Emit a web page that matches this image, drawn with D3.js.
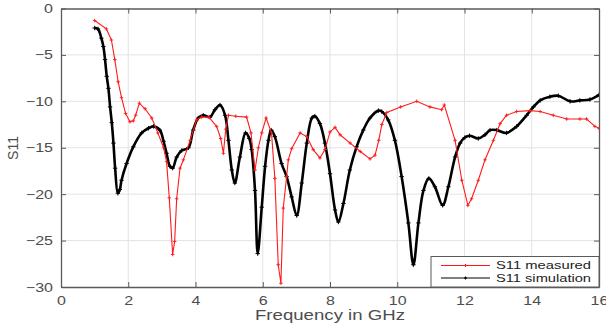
<!DOCTYPE html>
<html><head><meta charset="utf-8">
<script src="https://cdn.jsdelivr.net/npm/d3@7"></script>
<style>
html,body{margin:0;padding:0;background:#fff;}
text{font-family:"Liberation Sans",Arial,sans-serif;}
</style></head>
<body><svg id="c" width="606" height="325"></svg>
<script>
const measFreq = [1.0,1.35,1.5,1.6,1.7,1.8,1.92,2.05,2.15,2.22,2.33,2.5,2.7,2.88,3.05,3.14,3.22,3.32,3.38,3.44,3.54,3.64,3.84,4.03,4.18,4.4,4.63,4.75,4.83,4.9,4.98,5.2,5.52,5.65,5.77,5.87,5.97,6.1,6.26,6.36,6.46,6.54,6.61,6.71,6.76,6.86,7.11,7.31,7.5,7.7,7.85,8.0,8.15,8.3,8.6,8.9,9.19,9.34,9.45,9.54,9.69,10.1,10.58,10.97,11.32,11.4,11.72,11.92,12.1,12.21,12.41,12.61,12.86,13.06,13.25,13.55,13.95,14.25,14.64,15.04,15.43,15.63,15.88,16.0];
const measS11  = [-1.3,-2.2,-3.4,-5.5,-7.9,-9.6,-11.3,-12.2,-12.1,-11.5,-10.2,-10.8,-11.8,-13.4,-15.0,-16.5,-20.4,-26.5,-25.1,-20.5,-17.2,-16.3,-14.2,-12.0,-11.7,-11.7,-12.7,-14.0,-15.6,-13.0,-11.5,-11.6,-11.7,-13.4,-17.4,-15.0,-13.4,-11.8,-13.4,-18.3,-27.6,-29.6,-21.5,-18.1,-16.3,-15.1,-13.4,-13.8,-15.2,-16.1,-15.2,-13.3,-12.8,-13.6,-14.5,-15.4,-16.2,-15.8,-14.2,-12.5,-11.2,-10.6,-10.0,-10.6,-10.9,-10.4,-14.2,-18.5,-21.2,-20.5,-18.5,-16.3,-14.2,-12.4,-11.5,-11.1,-11.0,-11.1,-11.5,-11.9,-11.9,-11.9,-12.7,-12.9];

const simFreq = [1.0,1.1,1.2,1.26,1.31,1.36,1.41,1.46,1.51,1.56,1.61,1.69,1.75,1.8,1.95,2.15,2.4,2.6,2.75,2.94,3.05,3.14,3.24,3.32,3.44,3.59,3.79,3.93,4.08,4.23,4.43,4.58,4.73,4.88,4.98,5.08,5.17,5.32,5.49,5.6,5.67,5.77,5.85,5.97,6.07,6.17,6.25,6.36,6.56,6.71,6.86,7.01,7.16,7.31,7.46,7.55,7.7,7.85,8.0,8.15,8.25,8.4,8.59,8.79,8.99,9.19,9.44,9.54,9.73,9.93,10.13,10.33,10.48,10.63,10.78,10.94,11.12,11.35,11.52,11.72,11.87,12.01,12.15,12.41,12.61,12.76,12.96,13.25,13.55,13.85,14.05,14.25,14.54,14.79,15.14,15.43,15.73,16.0];
const simS11  = [-2.1,-2.2,-3.2,-4.1,-5.5,-7.3,-8.6,-10.6,-12.3,-14.5,-17.2,-19.9,-19.5,-18.5,-16.7,-14.9,-13.4,-12.9,-12.7,-13.1,-14.3,-15.6,-17.0,-17.2,-16.0,-15.3,-15.0,-13.1,-11.8,-11.5,-11.7,-10.9,-10.4,-11.5,-14.2,-17.4,-18.8,-16.0,-13.4,-14.0,-15.2,-19.6,-26.4,-21.4,-17.0,-14.2,-13.1,-13.8,-16.7,-18.1,-20.3,-22.3,-18.8,-14.5,-11.8,-11.6,-12.4,-14.5,-17.8,-21.7,-23.0,-21.0,-17.4,-14.9,-13.1,-11.8,-11.0,-11.1,-12.0,-14.2,-18.1,-23.1,-27.6,-23.1,-19.6,-18.3,-19.2,-21.2,-19.2,-16.0,-14.5,-13.9,-13.7,-14.0,-13.6,-13.1,-13.1,-13.4,-12.7,-11.5,-10.6,-9.9,-9.5,-9.4,-10.0,-9.9,-9.8,-9.3];

const xTicks = [0,2,4,6,8,10,12,14,16];
const yTicks = [0,-5,-10,-15,-20,-25,-30];
const seriesNames = ["S11 measured","S11 simulation"];
const xLabel = "Frequency in GHz";
const yLabel = "S11";

const svg = d3.select("#c");
const L = 61, R = 599, T = 8.5, B = 287;
const x = d3.scaleLinear().domain([0,16]).range([L,R]);
const y = d3.scaleLinear().domain([-30,0]).range([B,T]);
const axisCol = "#5a5a5a", textCol = "#4d4d4d";

// grid
const g = svg.append("g");
g.selectAll("line.gx").data(xTicks.slice(1,-1)).join("line")
  .attr("x1",d=>x(d)).attr("x2",d=>x(d)).attr("y1",T).attr("y2",B)
  .attr("stroke","#e3e3e3").attr("stroke-width",1);
g.selectAll("line.gy").data(yTicks.slice(1,-1)).join("line")
  .attr("y1",d=>y(d)).attr("y2",d=>y(d)).attr("x1",L).attr("x2",R)
  .attr("stroke","#e3e3e3").attr("stroke-width",1);

// axes
const xa = svg.append("g").attr("transform",`translate(0,${B})`)
  .call(d3.axisBottom(x).tickValues(xTicks).tickSize(-5).tickPadding(9).tickSizeOuter(0));
const ya = svg.append("g").attr("transform",`translate(${L},0)`)
  .call(d3.axisLeft(y).tickValues(yTicks).tickSize(-5).tickPadding(8).tickSizeOuter(0));
const xt = svg.append("g").attr("transform",`translate(0,${T})`)
  .call(d3.axisTop(x).tickValues(xTicks).tickSize(-5).tickFormat("").tickSizeOuter(0));
const yr = svg.append("g").attr("transform",`translate(${R},0)`)
  .call(d3.axisRight(y).tickValues(yTicks).tickSize(-5).tickFormat("").tickSizeOuter(0));
[xa,ya,xt,yr].forEach(a=>{
  a.select(".domain").attr("stroke",axisCol).attr("stroke-width",1.3);
  a.selectAll(".tick line").attr("stroke",axisCol);
  a.selectAll("text").attr("fill",textCol).attr("font-size",12.5)
    .attr("font-family","'Liberation Sans',Arial,sans-serif");
});
svg.selectAll(".tick text").each(function(){
  const w = this.getComputedTextLength();
  if (w>0) d3.select(this).attr("textLength", w*1.28).attr("lengthAdjust","spacingAndGlyphs");
});

// lines
const measData = measFreq.map((f,i)=>({f, s:measS11[i]}));
const simData = simFreq.map((f,i)=>({f, s:simS11[i]}));
svg.append("clipPath").attr("id","pc").append("rect")
  .attr("x",L).attr("y",T).attr("width",R-L).attr("height",B-T+1);
const plot = svg.append("g").attr("clip-path","url(#pc)");

const lineLin = d3.line().x(d=>x(d.f)).y(d=>y(d.s));
const lineSm = d3.line().x(d=>x(d.f)).y(d=>y(d.s)).curve(d3.curveCatmullRom.alpha(0.5));

function plus(sel, data, col, sz, sw){
  sel.selectAll(null).data(data).join("path")
    .attr("d", d=>{const px=x(d.f), py=y(d.s);
      return `M${px-sz},${py}H${px+sz}M${px},${py-sz}V${py+sz}`;})
    .attr("stroke",col).attr("stroke-width",sw).attr("fill","none");
}

plot.append("path").datum(simData).attr("d",lineSm)
  .attr("fill","none").attr("stroke","#000").attr("stroke-width",2.6);
plus(plot.append("g"), simData, "#000", 2.2, 1);

plot.append("path").datum(measData).attr("d",lineLin)
  .attr("fill","none").attr("stroke","#ff1a1a").attr("stroke-width",1.1);
plus(plot.append("g"), measData, "#ff1a1a", 1.8, 0.9);

// labels
svg.append("text").attr("x",330).attr("y",320).attr("text-anchor","middle")
  .attr("font-size",14).attr("fill",textCol).attr("textLength",150)
  .attr("lengthAdjust","spacingAndGlyphs").text(xLabel);
svg.append("text").attr("transform","translate(18,148) rotate(-90)")
  .attr("text-anchor","middle").attr("font-size",14).attr("fill",textCol).text(yLabel);

// legend
const lg = svg.append("g");
lg.append("rect").attr("x",431).attr("y",256.5).attr("width",168).attr("height",30.5)
  .attr("fill","#fff").attr("stroke",axisCol).attr("stroke-width",1);
const lcols = ["#ff1a1a","#000"];
seriesNames.forEach((n,i)=>{
  const yy = 265.5 + i*12.5;
  lg.append("line").attr("x1",441).attr("x2",490).attr("y1",yy).attr("y2",yy)
    .attr("stroke",lcols[i]).attr("stroke-width",1.1);
  lg.append("path").attr("d",`M464,${yy}h3M465.5,${yy-1.5}v3`).attr("stroke",lcols[i]).attr("stroke-width",1.2);
  lg.append("text").attr("x",496).attr("y",yy+3.8).attr("font-size",10.5)
    .attr("fill","#222").attr("textLength",95).attr("lengthAdjust","spacingAndGlyphs").text(n);
});
</script></body></html>
